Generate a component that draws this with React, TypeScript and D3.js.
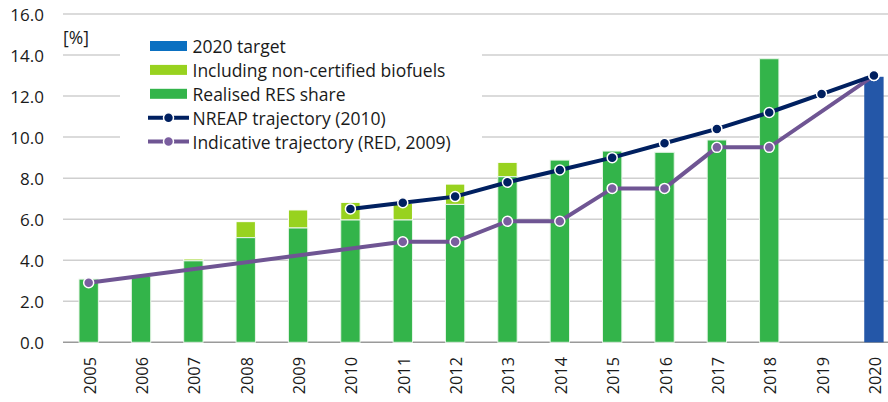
import React from "react";
import * as d3 from "d3";

const years = ["2005","2006","2007","2008","2009","2010","2011","2012","2013","2014","2015","2016","2017","2018","2019","2020"];
// realised RES share (green)
const realised: (number | null)[] = [3.08, 3.22, 3.97, 5.1, 5.57, 5.96, 5.96, 6.72, 8.07, 8.88, 9.32, 9.26, 9.86, 13.82, null, null];
// including non-certified biofuels (total height)
const nonCertified: (number | null)[] = [null, null, 4.06, 5.88, 6.45, 6.82, 6.77, 7.71, 8.77, null, null, null, null, null, null, null];
// 2020 target
const target: (number | null)[] = [null, null, null, null, null, null, null, null, null, null, null, null, null, null, null, 12.94];
// NREAP trajectory (2010)
const nreap: (number | null)[] = [null, null, null, null, null, 6.5, 6.8, 7.1, 7.8, 8.4, 9.0, 9.7, 10.4, 11.2, 12.1, 13.0];
// Indicative trajectory (RED, 2009)
const indicative: (number | null)[] = [2.9, null, null, null, null, null, 4.9, 4.9, 5.9, 5.9, 7.5, 7.5, 9.5, 9.5, null, 13.0];
const yTicks = [0, 2, 4, 6, 8, 10, 12, 14, 16];
const legendLabels = ["2020 target", "Including non-certified biofuels", "Realised RES share", "NREAP trajectory (2010)", "Indicative trajectory (RED, 2009)"];

const C_GREEN = "#33b44a";
const C_LIGHT = "#98d21f";
const C_BLUE = "#2457a8";
const C_BLUE_LEG = "#0b70c1";
const C_NAVY = "#002060";
const C_PURPLE = "#6f5593";
const C_PURPLE_M = "#7a5e9f";
const FONT = "'Open Sans', sans-serif";

export default function App() {
  const W = 888, H = 402;
  const x = d3.scaleBand<string>().domain(years).range([62.5, 900.1]).paddingInner(0.63).paddingOuter(0.315);
  const y = d3.scaleLinear().domain([0, 16]).range([342.3, 14]);
  const bw = x.bandwidth();
  const cx = (yr: string) => (x(yr) as number) + bw / 2;

  const lineGen = d3.line<[string, number]>().x(d => cx(d[0])).y(d => y(d[1]));
  const nreapPts: [string, number][] = years.map((yr, i) => [yr, nreap[i]] as [string, number | null]).filter(d => d[1] != null) as [string, number][];
  const indPts: [string, number][] = years.map((yr, i) => [yr, indicative[i]] as [string, number | null]).filter(d => d[1] != null) as [string, number][];

  const legX = 150, legY0 = 46, legStep = 23.9;

  return (
    <svg width={W} height={H} style={{ position: "absolute", left: 0, top: 0, background: "#fff" }} fontFamily={FONT}>
      {/* gridlines */}
      {yTicks.filter(t => t > 0).map(t => (
        <line key={t} x1={63} x2={900} y1={y(t)} y2={y(t)} stroke="#cfcfcf" strokeWidth={1.5} />
      ))}
      {/* legend background */}
      <rect x={120} y={26} width={362} height={138} fill="#fff" />
      {/* axis line */}
      <line x1={63} x2={900} y1={y(0)} y2={y(0)} stroke="#9a9a9a" strokeWidth={1.5} />
      {/* y tick labels */}
      {yTicks.map(t => (
        <text key={t} x={44} y={y(t)} textAnchor="end" dominantBaseline="central" fontSize={17} fill="#1a1a1a">{t.toFixed(1)}</text>
      ))}
      <text x={63} y={37} dominantBaseline="central" fontSize={17.5} fill="#1a1a1a">[%]</text>
      {/* bars */}
      {years.map((yr, i) => {
        const r = realised[i];
        const n = nonCertified[i];
        const t = target[i];
        return (
          <g key={yr}>
            {r != null && n != null && (
              <rect x={x(yr)} y={y(n)} width={bw} height={y(r) - y(n)} fill={C_LIGHT} stroke="#fff" strokeWidth={1} />
            )}
            {r != null && (
              <rect x={x(yr)} y={y(r)} width={bw} height={y(0) - y(r)} fill={C_GREEN} stroke="#e8f5e8" strokeWidth={1} />
            )}
            {t != null && (
              <rect x={x(yr)} y={y(t)} width={bw} height={y(0) - y(t)} fill={C_BLUE} />
            )}
          </g>
        );
      })}
      {/* lines */}
      <path d={lineGen(indPts) || ""} fill="none" stroke={C_PURPLE} strokeWidth={4} />
      <path d={lineGen(nreapPts) || ""} fill="none" stroke={C_NAVY} strokeWidth={4} />
      {indPts.map(d => (
        <circle key={"i" + d[0]} cx={cx(d[0])} cy={y(d[1])} r={5} fill={C_PURPLE_M} stroke="#fff" strokeWidth={1.5} />
      ))}
      {nreapPts.map(d => (
        <circle key={"n" + d[0]} cx={cx(d[0])} cy={y(d[1])} r={5} fill={C_NAVY} stroke="#fff" strokeWidth={1.5} />
      ))}
      {/* x labels */}
      {years.map(yr => (
        <text key={yr} transform={`translate(${cx(yr) + 1},357) rotate(-90)`} textAnchor="end" dominantBaseline="central" fontSize={16.3} fill="#1a1a1a">{yr}</text>
      ))}
      {/* legend */}
      {legendLabels.map((lab, i) => {
        const ly = legY0 + i * legStep;
        let sw;
        if (i < 3) {
          const col = [C_BLUE_LEG, C_LIGHT, C_GREEN][i];
          sw = <rect x={legX} y={ly - 5} width={37} height={10} fill={col} />;
        } else {
          const col = i === 3 ? C_NAVY : C_PURPLE;
          const mcol = i === 3 ? C_NAVY : C_PURPLE_M;
          sw = (
            <g>
              <line x1={legX - 2} x2={legX + 39} y1={ly} y2={ly} stroke={col} strokeWidth={4} />
              <circle cx={legX + 18.5} cy={ly} r={5} fill={mcol} stroke="#fff" strokeWidth={1.5} />
            </g>
          );
        }
        return (
          <g key={lab}>
            {sw}
            <text x={192.5} y={ly} dominantBaseline="central" fontSize={17.5} fill="#1a1a1a">{lab}</text>
          </g>
        );
      })}
    </svg>
  );
}
